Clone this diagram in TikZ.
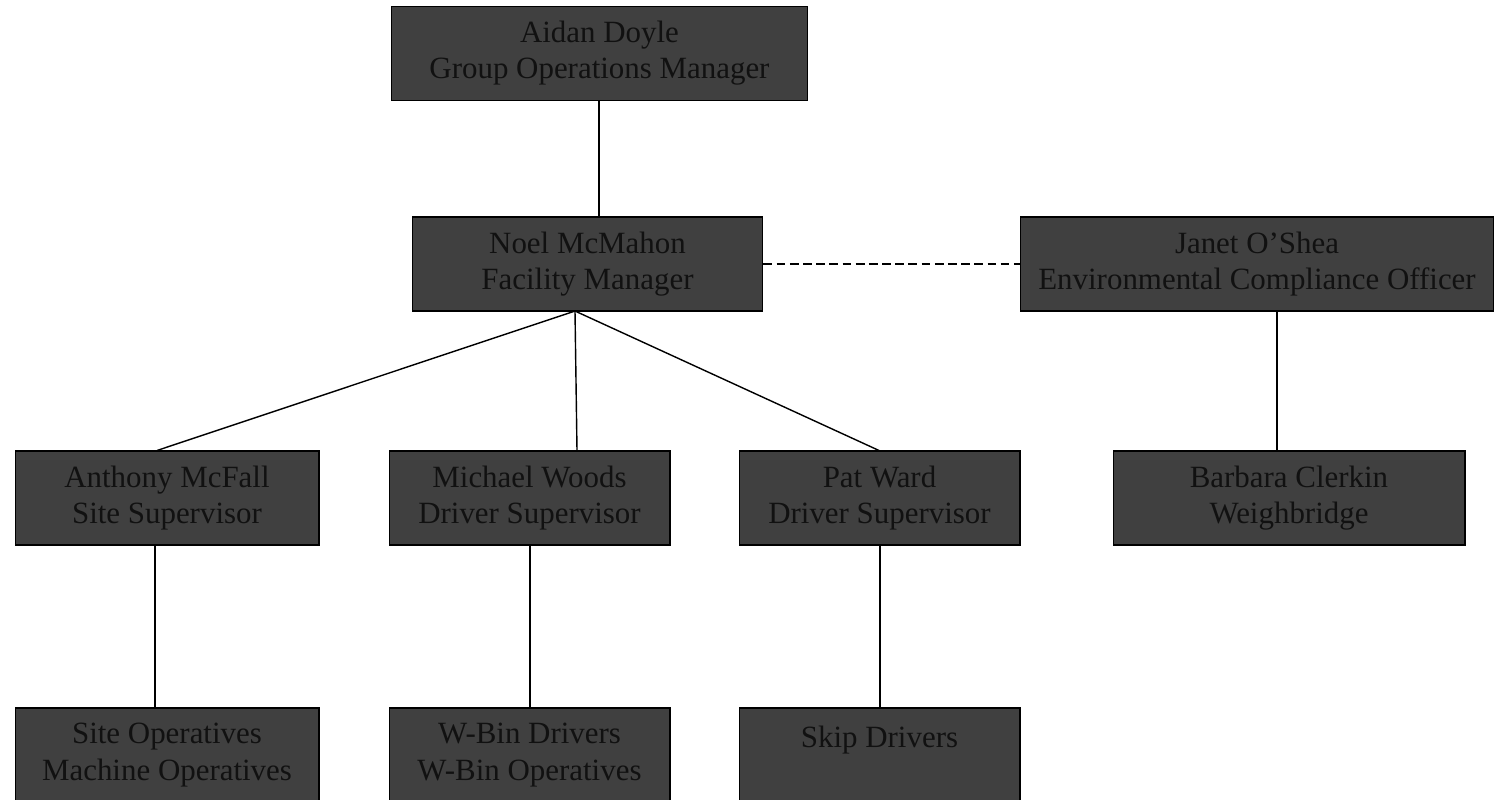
\documentclass[tikz,border=0pt]{standalone}
\usepackage{fontspec}
\setmainfont{Liberation Serif}
\definecolor{boxgray}{HTML}{404040}
\definecolor{inkblack}{HTML}{111111}
\tikzset{>=latex}

\begin{document}
\begin{tikzpicture}[x=0.02cm,y=-0.02cm]
\useasboundingbox (0,0) rectangle (1495,799);
\begin{scope}[every node/.style={rectangle,draw=black,line width=0.6pt,fill=boxgray,
    text=inkblack,align=center,minimum height=1.88cm,inner sep=0pt,
    font=\fontsize{17.6}{20.6}\selectfont}]
\node[minimum width=8.34cm] (Aidan) at (599.5,53.5) {Aidan Doyle\\Group Operations Manager};
\node[minimum width=7.02cm] (Noel) at (587.5,264) {Noel McMahon\\Facility Manager};
\node[minimum width=9.48cm] (Janet) at (1257,264) {Janet O’Shea\\Environmental Compliance Officer};
\node[minimum width=6.08cm] (Anthony) at (167,498) {Anthony McFall\\Site Supervisor};
\node[minimum width=5.62cm] (Michael) at (529.5,498) {Michael Woods\\Driver Supervisor};
\node[minimum width=5.62cm] (Pat) at (879.5,498) {Pat Ward\\Driver Supervisor};
\node[minimum width=7.04cm] (Barbara) at (1289,498) {Barbara Clerkin\\Weighbridge};
\node[minimum width=6.08cm] (SiteOps) at (167,755) {Site Operatives\\Machine Operatives};
\node[minimum width=5.62cm] (WBin) at (529.5,755) {W-Bin Drivers\\W-Bin Operatives};
\node[minimum width=5.62cm] (Skip) at (879.5,755) {Skip Drivers\\~};
\end{scope}
\coordinate (hub) at (575,311);
\begin{scope}[every edge/.style={draw=black,line width=0.8pt}]
    \path (Aidan.south -| 599,0) edge (Noel.north -| 599,0);
    \path [dashed,dash pattern=on 5pt off 2.5pt] (Noel.east) edge (Janet.east -| Janet.west);

    \path (hub) edge (Anthony.north -| 157,0);
    \path (hub) edge (Michael.north -| 577,0);
    \path (hub) edge (Pat.north -| 879,0);

    \path (Janet.south -| 1277,0) edge (Barbara.north -| 1277,0);

    \path (Anthony.south -| 155,0) edge (SiteOps.north -| 155,0);
    \path (Michael.south -| 530,0) edge (WBin.north -| 530,0);
    \path (Pat.south -| 880,0) edge (Skip.north -| 880,0);
\end{scope}
\end{tikzpicture}
\end{document}
